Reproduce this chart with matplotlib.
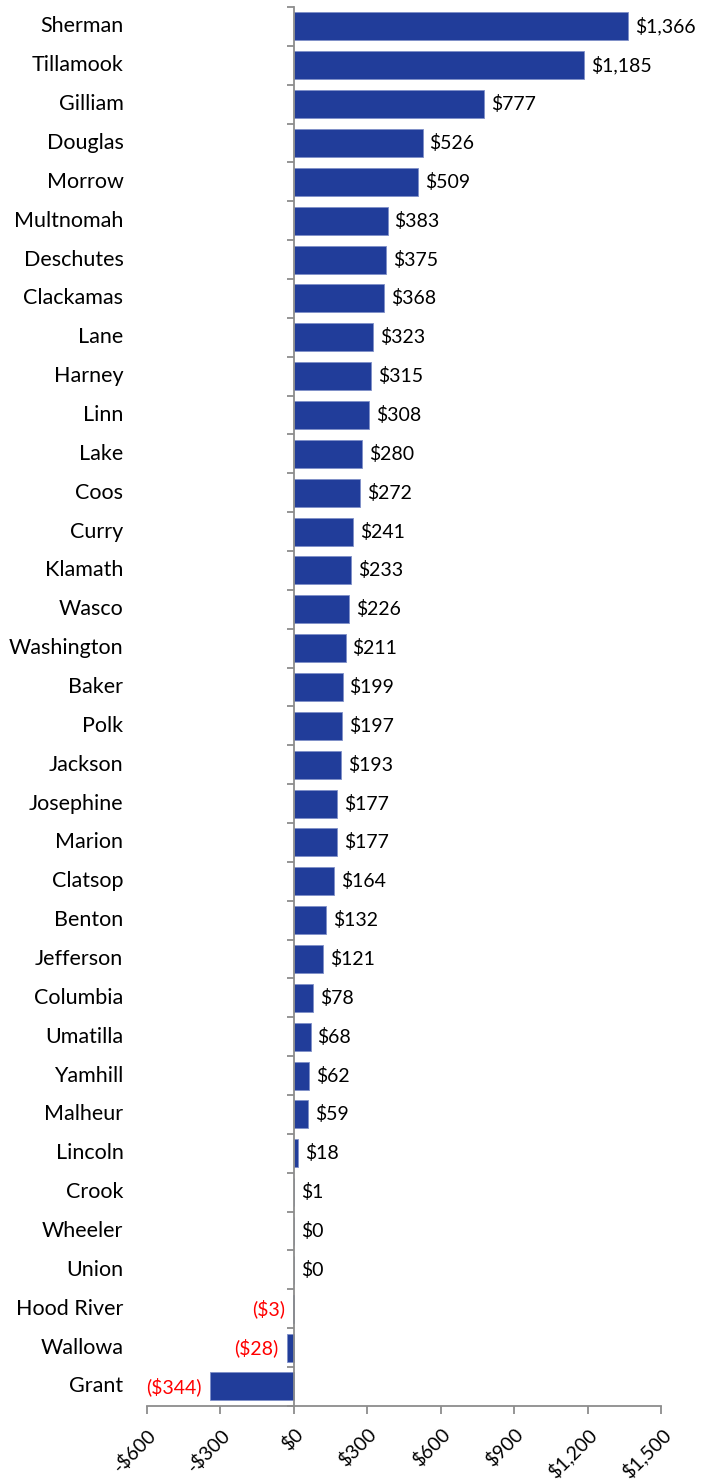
import matplotlib.pyplot as plt

plt.rcParams['font.family'] = ['Lato', 'DejaVu Sans']

counties = ['Sherman', 'Tillamook', 'Gilliam', 'Douglas', 'Morrow', 'Multnomah',
            'Deschutes', 'Clackamas', 'Lane', 'Harney', 'Linn', 'Lake', 'Coos',
            'Curry', 'Klamath', 'Wasco', 'Washington', 'Baker', 'Polk', 'Jackson',
            'Josephine', 'Marion', 'Clatsop', 'Benton', 'Jefferson', 'Columbia',
            'Umatilla', 'Yamhill', 'Malheur', 'Lincoln', 'Crook', 'Wheeler',
            'Union', 'Hood River', 'Wallowa', 'Grant']
values = [1366, 1185, 777, 526, 509, 383, 375, 368, 323, 315, 308, 280, 272,
          241, 233, 226, 211, 199, 197, 193, 177, 177, 164, 132, 121, 78,
          68, 62, 59, 18, 1, 0, 0, -3, -28, -344]
xticks = [-600, -300, 0, 300, 600, 900, 1200, 1500]
xtick_labels = ['-$600', '-$300', '$0', '$300', '$600', '$900', '$1,200', '$1,500']

bar_color = '#213D9A'
axis_color = '#8C8C8C'

fig = plt.figure(figsize=(7.12, 14.81), dpi=100)
ax = fig.add_axes([0.2065, 0.0507, 0.7219, 0.9446])

n = len(counties)
ypos = list(range(n))
ax.barh(ypos, values, height=0.72, color=bar_color, edgecolor='#7F8FC8', linewidth=0.6)

ax.set_ylim(n - 0.5, -0.5)
ax.set_xlim(-600, 1500)

# data labels
for y, v in zip(ypos, values):
    if v < 0:
        ax.annotate('(${:,})'.format(-v), xy=(v, y), xytext=(-6, 0),
                    textcoords='offset points', ha='right', va='center',
                    fontsize=14, color='#FF0000')
    else:
        ax.annotate('${:,}'.format(v), xy=(v, y), xytext=(5, 0),
                    textcoords='offset points', ha='left', va='center',
                    fontsize=14, color='black')

# spines: y axis at zero, x axis at bottom
for s in ['top', 'right']:
    ax.spines[s].set_visible(False)
ax.spines['left'].set_position(('data', 0))
ax.spines['left'].set_color(axis_color)
ax.spines['bottom'].set_color(axis_color)
ax.spines['left'].set_linewidth(1.3)
ax.spines['bottom'].set_linewidth(1.3)

# category ticks between bars, labels on far left
ax.set_yticks([i - 0.5 for i in range(n + 1)])
ax.set_yticklabels([])
ax.tick_params(axis='y', direction='out', length=5, color=axis_color, width=1.3)
for y, name in zip(ypos, counties):
    ax.annotate(name, xy=(0, y), xycoords=ax.get_yaxis_transform(),
                xytext=(-17, 0), textcoords='offset points', ha='right',
                va='center', fontsize=15.5)

ax.set_xticks(xticks)
ax.set_xticklabels(xtick_labels, rotation=45, ha='right', va='top',
                   rotation_mode='anchor', fontsize=14)
ax.tick_params(axis='x', direction='out', length=6, color=axis_color, width=1.3, pad=8)

fig.savefig('out.png', dpi=100)
